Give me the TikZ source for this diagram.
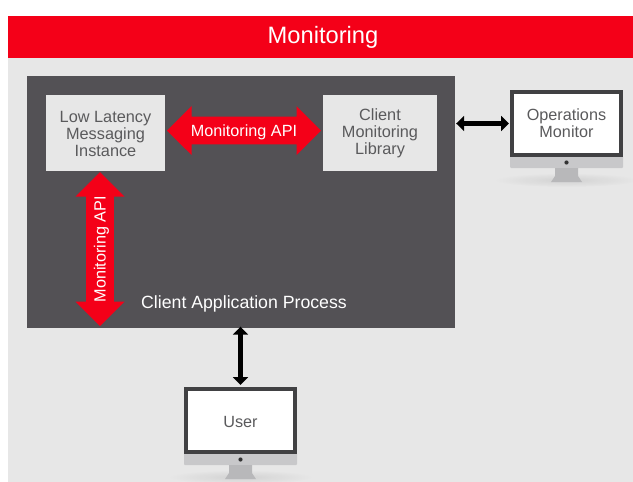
\documentclass[tikz,border=0pt]{standalone}
\usepackage{fontspec}
\setmainfont{Liberation Sans}
\usetikzlibrary{shapes.arrows,arrows.meta,fadings}
\definecolor{brandred}{HTML}{F40018}
\definecolor{panelgray}{HTML}{E7E7E7}
\definecolor{darkbox}{HTML}{535155}
\definecolor{labelgray}{HTML}{5A5A5C}
\definecolor{bezel}{HTML}{414143}
\definecolor{chin}{HTML}{C8C8CA}
\tikzset{
  px/.style={x=1pt,y=-1pt},
  innerbox/.style={fill=panelgray,draw=none,minimum width=#1,minimum height=76pt,inner sep=0pt,align=center,font=\fontsize{16.3}{17.2}\selectfont,text=labelgray},
  redarrow/.style={double arrow,fill=brandred,draw=none,text=white,inner sep=0pt,
    font=\fontsize{16.2}{17}\selectfont,double arrow head extend=5.5pt,minimum width=49pt,minimum height=154pt,
    double arrow tip angle=90},
  blackarrow/.style={draw=black,line width=4.4pt,{Stealth[length=8pt,width=15pt,inset=0pt]}-{Stealth[length=8pt,width=15pt,inset=0pt]}},
  screen/.style={fill=white,draw=bezel,line width=4pt,inner sep=0pt,minimum width=109pt,minimum height=63pt,align=center,text=labelgray,font=\fontsize{16.2}{16.6}\selectfont},
  bodychin/.style={fill=chin,draw=none,rounded corners=1pt},
  standpart/.style={fill=chin!92!black,draw=none},
  shadowpart/.style={fill=black,fill opacity=0.09,path fading=shfade,draw=none}
}
\tikzfading[name=shfade,inner color=transparent!0,outer color=transparent!100]
\newcommand{\monitorbody}[2]{%
  \fill[shadowpart] (#1+56.5,#2+90) ellipse [x radius=72pt,y radius=7pt];
  \fill[bodychin] (#1,#2+66) rectangle (#1+113,#2+78);
  \fill[black!80] (#1+56.5,#2+72.5) circle [radius=2.1pt];
  \fill[standpart] (#1+45,#2+78) -- (#1+68,#2+78) -- (#1+68,#2+86) -- (#1+72,#2+92) -- (#1+41,#2+92) -- (#1+45,#2+86) -- cycle;
}
\begin{document}
\begin{tikzpicture}[px]
\useasboundingbox (0,0) rectangle (633,482);
\fill[white] (0,0) rectangle (633,482);
\fill[panelgray] (8,58) rectangle (633,482);
\node[fill=brandred,minimum width=625pt,minimum height=42pt,inner sep=0pt] (banner) at (320.5,37) {};
\node[text=white,font=\fontsize{23.7}{26}\selectfont,inner sep=0pt] (title) at (323,37) {Monitoring};
\node[fill=darkbox,minimum width=428pt,minimum height=252pt,inner sep=0pt] (process) at (241,202) {};
\node[text=white,font=\fontsize{17.7}{20}\selectfont,inner sep=0pt] (processlabel) at (244,304) {Client Application Process};
\node[innerbox=119pt] (lowlat) at (105.5,133) {\rule{0pt}{13.7pt}Low Latency\\Messaging\\Instance};
\node[innerbox=114pt] (library) at (380,133) {Client\\Monitoring\\Library};
\node[redarrow] (hapi) at (244,130.5) {\raisebox{-1.5pt}[11pt][3pt]{Monitoring API}};
\node[redarrow,rotate=90] (vapi) at (100,249) {\raisebox{-1.5pt}[11pt][3pt]{Monitoring API}};
\monitorbody{510}{90}
\node[screen] (ops) at (566.5,123.5) {Operations\\Monitor};
\monitorbody{184}{387}
\node[screen] (user) at (240.5,420.5) {\raisebox{-1pt}[11pt][0pt]{User}};
\draw[blackarrow,shorten <=1pt,shorten >=1pt] (process.east |- ops.west) -- (ops.west);
\draw[blackarrow,shorten <=-1.5pt,shorten >=2pt] (user.north |- process.south) -- (user.north);
\end{tikzpicture}
\end{document}
